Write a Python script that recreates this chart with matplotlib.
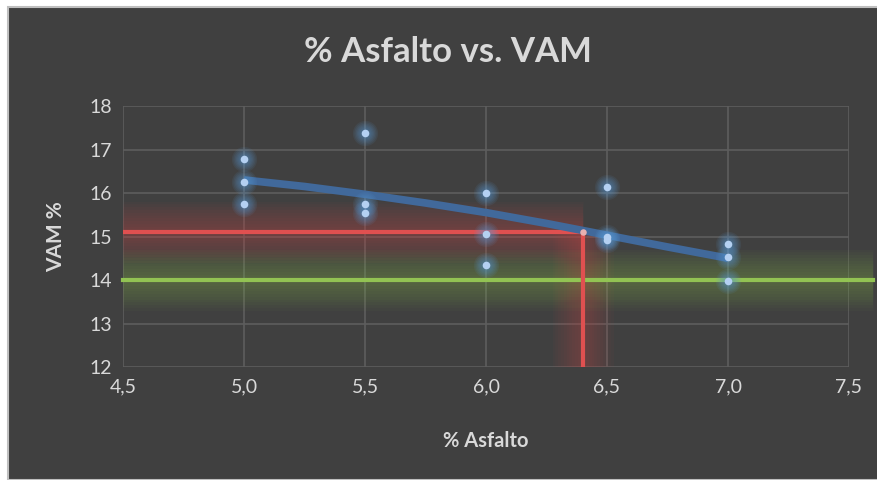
import matplotlib.pyplot as plt
import matplotlib.patches as mpatches
import numpy as np

# datos
asfalto = [5.0, 5.0, 5.0, 5.5, 5.5, 5.5, 6.0, 6.0, 6.0, 6.5, 6.5, 6.5, 7.0, 7.0, 7.0]
vam = [16.78, 16.25, 15.75, 17.38, 15.75, 15.54, 16.0, 15.06, 14.35,
       16.14, 15.0, 14.92, 14.83, 14.54, 13.98]

# linea de tendencia (leida)
tend_x = [5.0, 5.25, 5.5, 5.75, 6.0, 6.25, 6.5, 6.75, 7.0]
tend_y = [16.3, 16.15, 15.97, 15.77, 15.55, 15.3, 15.03, 14.76, 14.5]

vam_objetivo = 15.1
asfalto_optimo = 6.4
vam_minimo = 14.0

x_ticks = [4.5, 5.0, 5.5, 6.0, 6.5, 7.0, 7.5]
y_ticks = [12, 13, 14, 15, 16, 17, 18]

plt.rcParams['font.family'] = ['Lato', 'DejaVu Sans']

W, H = 877, 480
fig = plt.figure(figsize=(W / 100, H / 100), dpi=100, facecolor='white')
fondo = '#404040'
fig.patches.append(mpatches.Rectangle((8 / W, 0), 1, 1 - 7 / H, transform=fig.transFigure,
                                      facecolor=fondo, edgecolor='#bfbfbf', linewidth=1.5,
                                      zorder=-10))

ax = fig.add_axes([123 / W, (H - 367) / H, (849 - 123) / W, (367 - 106) / H])
ax.set_facecolor(fondo)
ax.set_xlim(4.5, 7.5)
ax.set_ylim(12, 18)
ax.set_xticks(x_ticks)
ax.set_yticks(y_ticks)
ax.set_xticklabels([f'{v:.1f}'.replace('.', ',') for v in x_ticks])
ax.grid(True, color='#5e5e5e', linewidth=1.2)
ax.set_axisbelow(True)
for s in ax.spines.values():
    s.set_visible(False)
ax.tick_params(length=0, colors='#d9d9d9', labelsize=14, pad=8)

# resplandor suave de las lineas de referencia
for w in np.arange(44, 4, -4):
    ax.plot([4.5, 7.6], [vam_minimo, vam_minimo], color='#92c353', lw=w, alpha=0.035,
            solid_capstyle='butt', clip_on=False, zorder=1)
    ax.plot([4.5, asfalto_optimo], [vam_objetivo, vam_objetivo], color='#e04848', lw=w,
            alpha=0.035, solid_capstyle='butt', zorder=1)
    ax.plot([asfalto_optimo, asfalto_optimo], [12, vam_objetivo], color='#e04848', lw=w,
            alpha=0.03, solid_capstyle='butt', zorder=1)

ax.plot([4.5, 7.6], [vam_minimo, vam_minimo], color='#92c353', lw=3, clip_on=False, zorder=2)
ax.plot([4.5, asfalto_optimo, asfalto_optimo], [vam_objetivo, vam_objetivo, 12],
        color='#e05050', lw=3, zorder=2)

ax.plot(tend_x, tend_y, color='#41699b', lw=5.5, solid_capstyle='butt', zorder=3)

# puntos con resplandor
for s in [330, 260, 200, 150, 110, 75, 50]:
    ax.scatter(asfalto, vam, s=s, color='#5b9bd5', alpha=0.09, linewidths=0, zorder=4)
ax.scatter(asfalto, vam, s=30, color='#b4d0f2', linewidths=0, zorder=5)
ax.scatter([asfalto_optimo], [vam_objetivo], s=22, color='#e8b0b0', linewidths=0, zorder=5)

fig.text(448 / W, 1 - 52 / H, '% Asfalto vs. VAM', ha='center', va='center',
         fontsize=25, fontweight='bold', color='#d9d9d9')
fig.text(486 / W, 1 - 441 / H, '% Asfalto', ha='center', va='center',
         fontsize=14.5, fontweight='bold', color='#d9d9d9')
fig.text(56 / W, 1 - 237 / H, 'VAM %', ha='center', va='center', rotation=90,
         fontsize=15, fontweight='bold', color='#d9d9d9')

fig.savefig('out.png', dpi=100, facecolor='white')
